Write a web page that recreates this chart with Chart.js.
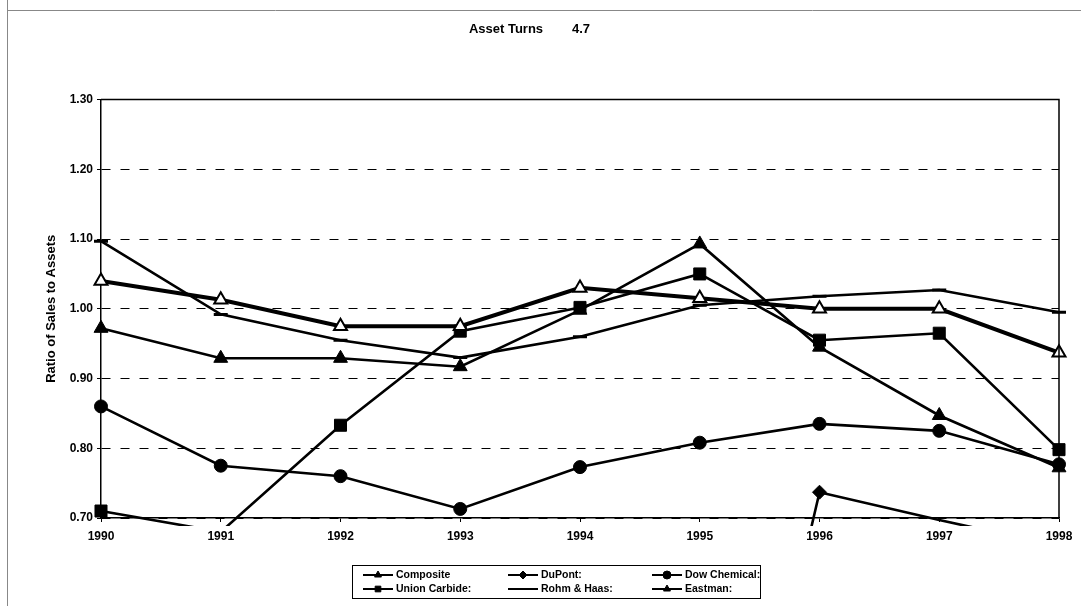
<!DOCTYPE html>
<html>
<head>
<meta charset="utf-8">
<title>Asset Turns</title>
<script src="https://cdn.jsdelivr.net/npm/chart.js@4.4.1/dist/chart.umd.min.js"></script>
<style>
  html, body { margin: 0; padding: 0; background: #fff; }
  #wrap { position: relative; width: 1081px; height: 606px; }
</style>
</head>
<body>
<div id="wrap"><canvas id="cv" width="1081" height="606"></canvas></div>
<script>
  // --- data ---
  const years = ['1990', '1991', '1992', '1993', '1994', '1995', '1996', '1997', '1998'];
  const composite    = [1.040, 1.013, 0.975, 0.975, 1.030, 1.015, 1.000, 1.000, 0.937];
  const duPont       = [0, 0, 0, 0, 0, 0, 0.737, 0.697, 0.660];
  const dowChemical  = [0.860, 0.775, 0.760, 0.713, 0.773, 0.808, 0.835, 0.825, 0.777];
  const unionCarbide = [0.710, 0.680, 0.833, 0.968, 1.002, 1.050, 0.955, 0.965, 0.798];
  const rohmHaas     = [1.097, 0.992, 0.955, 0.930, 0.960, 1.005, 1.018, 1.027, 0.995];
  const eastman      = [0.972, 0.929, 0.929, 0.917, 0.998, 1.093, 0.945, 0.847, 0.772];
  const yTicks = [0.70, 0.80, 0.90, 1.00, 1.10, 1.20, 1.30];

  const Y_MIN = yTicks[0], Y_MAX = yTicks[yTicks.length - 1];
  const FONT = "'Liberation Sans', Arial, sans-serif";
  const INK = '#000';

  // Excel hides markers of points that fall outside the value axis
  const rad = r => ctx => (ctx.raw < Y_MIN || ctx.raw > Y_MAX) ? 0 : r;

  function series(label, data, o) {
    return Object.assign({
      label, data,
      borderColor: INK, backgroundColor: INK,
      pointBackgroundColor: INK, pointBorderColor: INK,
      borderWidth: 2.6, pointBorderWidth: 1, tension: 0,
      clip: { left: 12, right: 12, top: 12, bottom: 8 },
    }, o, { pointRadius: rad(o.r), pointHoverRadius: rad(o.r) });
  }

  const datasets = [
    series('Composite', composite, { pointStyle: 'triangle', r: 7.5, borderWidth: 4, pointBackgroundColor: '#fff', pointBorderWidth: 2 }),
    series('DuPont:', duPont, { pointStyle: 'rectRot', r: 7 }),
    series('Dow Chemical:', dowChemical, { pointStyle: 'circle', r: 6.5 }),
    series('Union Carbide:', unionCarbide, { pointStyle: 'rect', r: 8.5 }),
    series('Rohm & Haas:', rohmHaas, { pointStyle: 'line', r: 7, pointBorderWidth: 3 }),
    series('Eastman:', eastman, { pointStyle: 'triangle', r: 8 }),
  ];

  // boxed legend, 3 columns x 2 rows, like the Excel one
  const legendBox = { x: 352, y: 565, w: 408, h: 33 };
  const legendCols = [11, 156, 300], legendRows = [10, 24];

  const framePlugin = {
    id: 'frame',
    afterDraw(chart) {
      const { ctx, chartArea: a } = chart;
      ctx.save();
      // plot area border (top + right)
      ctx.strokeStyle = INK; ctx.lineWidth = 1.5; ctx.setLineDash([]);
      ctx.beginPath();
      ctx.moveTo(a.left, a.top); ctx.lineTo(a.right, a.top); ctx.lineTo(a.right, a.bottom);
      ctx.stroke();
      // page frame of the scan
      ctx.strokeStyle = '#888'; ctx.lineWidth = 1;
      ctx.beginPath();
      ctx.moveTo(7.5, 0); ctx.lineTo(7.5, 606);
      ctx.moveTo(7, 10.5); ctx.lineTo(1081, 10.5);
      ctx.stroke();

      // legend
      const b = legendBox;
      ctx.strokeStyle = INK; ctx.lineWidth = 1;
      ctx.strokeRect(b.x + 0.5, b.y + 0.5, b.w, b.h);
      ctx.font = 'bold 10.5px ' + FONT; ctx.textBaseline = 'middle'; ctx.textAlign = 'left';
      chart.data.datasets.forEach((ds, i) => {
        const x = b.x + legendCols[i % 3], y = b.y + legendRows[Math.floor(i / 3)];
        ctx.strokeStyle = INK; ctx.lineWidth = 2;
        ctx.beginPath(); ctx.moveTo(x, y); ctx.lineTo(x + 30, y); ctx.stroke();
        ctx.fillStyle = INK; ctx.strokeStyle = INK; ctx.lineWidth = 1;
        Chart.helpers.drawPoint(ctx, { pointStyle: ds.pointStyle, radius: 4, rotation: 0, borderWidth: 1 }, x + 15, y);
        ctx.fillStyle = INK;
        ctx.fillText(ds.label, x + 33, y + 0.5);
      });
      ctx.restore();
    }
  };

  new Chart(document.getElementById('cv'), {
    type: 'line',
    data: { labels: years, datasets },
    plugins: [framePlugin],
    options: {
      responsive: false,
      devicePixelRatio: 1,
      animation: false,
      events: [],
      layout: { padding: { left: 0, right: 22, top: 0, bottom: 58 } },
      plugins: {
        legend: { display: false },
        tooltip: { enabled: false },
        title: {
          display: true,
          text: 'Asset Turns        4.7',
          color: INK,
          font: { family: FONT, size: 13, weight: 'bold' },
          padding: { top: 22, bottom: 62 },
        },
      },
      scales: {
        x: {
          type: 'category',
          offset: false,
          afterFit: s => { s.height = 30; },
          grid: { drawOnChartArea: false, drawTicks: true, tickLength: 4, color: INK },
          border: { display: true, color: INK, width: 1.5 },
          ticks: { color: INK, padding: 7, maxRotation: 0, autoSkip: false, font: { family: FONT, size: 12, weight: 'bold' } },
        },
        y: {
          min: Y_MIN, max: Y_MAX,
          afterFit: s => { s.width = 101; },
          afterBuildTicks: s => { s.ticks = yTicks.map(v => ({ value: v })); },
          grid: { color: INK, lineWidth: 1, tickLength: 4, tickBorderDash: [] },
          border: { display: true, color: INK, width: 1.5, dash: [9, 10] },
          ticks: { color: INK, padding: 4, font: { family: FONT, size: 12, weight: 'bold' }, callback: v => v.toFixed(2) },
          title: {
            display: true,
            text: 'Ratio of Sales to Assets',
            color: INK,
            font: { family: FONT, size: 13, weight: 'bold' },
            padding: { top: 44, bottom: 0 },
          },
        },
      },
    },
  });
</script>
</body>
</html>
